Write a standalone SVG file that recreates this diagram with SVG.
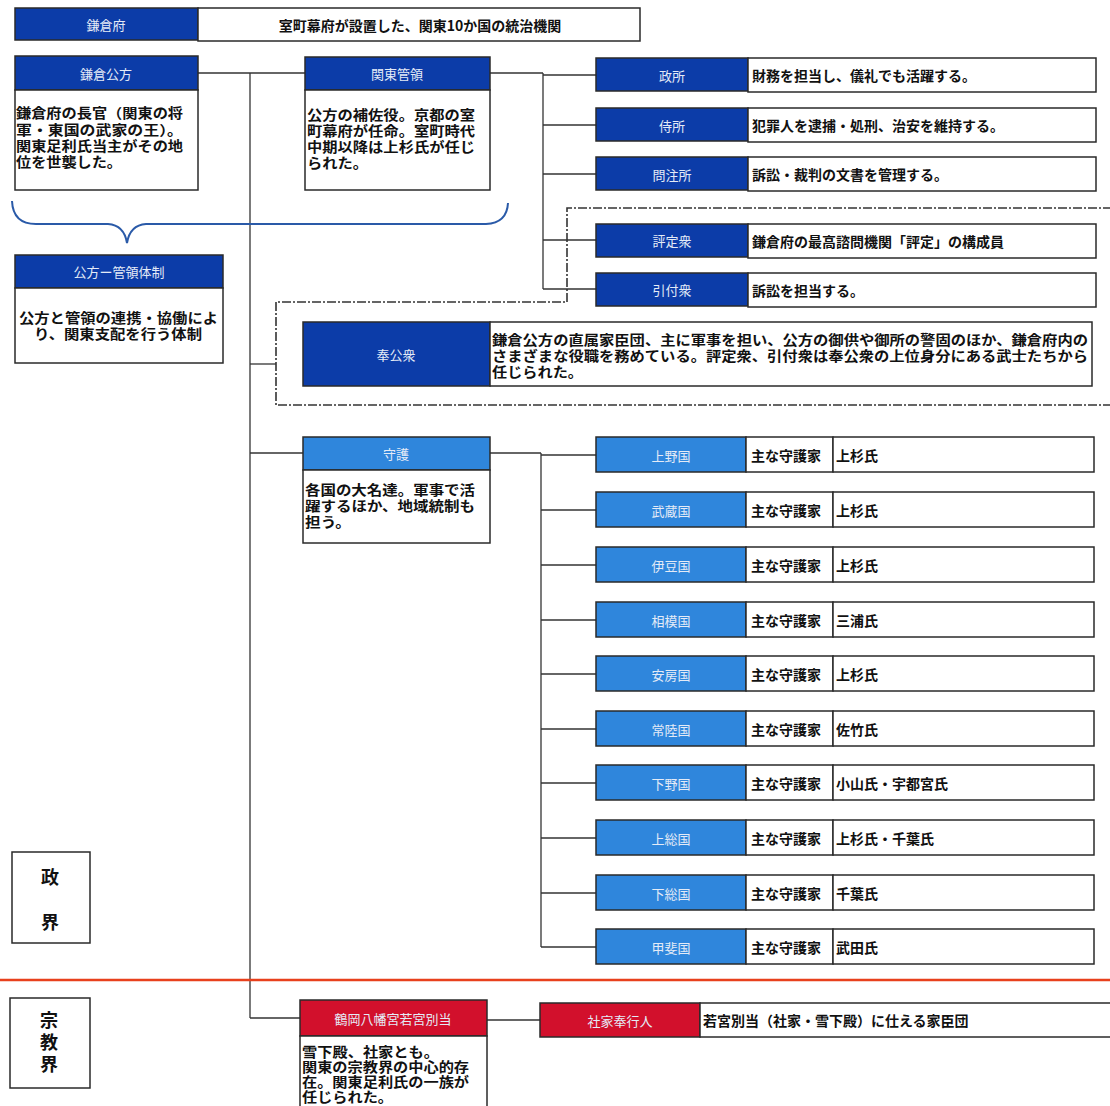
<svg xmlns="http://www.w3.org/2000/svg" width="1110" height="1106" viewBox="0 0 1110 1106">
<style>
.hd{fill:#0c3ca8;stroke:#2a2a2a;stroke-width:1.5}
.hl{fill:#2f86dc;stroke:#2a2a2a;stroke-width:1.5}
.hr{fill:#d2102c;stroke:#2a2a2a;stroke-width:1.5}
.bx{fill:#fff;stroke:#2a2a2a;stroke-width:1.5}
.ht{font-family:"Noto Sans CJK JP",sans-serif;font-size:13px;fill:#e4ebf7;text-anchor:middle;dominant-baseline:central}
.t{font-family:"Liberation Sans","Noto Sans CJK JP",sans-serif;font-size:13.5px;font-weight:bold;fill:#111}
.tc{font-family:"Noto Sans CJK JP",sans-serif;font-size:14px;font-weight:bold;fill:#111;dominant-baseline:central}
.big{font-family:"Liberation Sans","Noto Sans CJK JP",sans-serif;font-size:18px;font-weight:bold;fill:#111;text-anchor:middle}
.ln{stroke:#333;stroke-width:1.3;fill:none}
</style>
<rect width="1110" height="1106" fill="#fff"/>

<g id="connectors">
<line class="ln" x1="198" y1="73" x2="305" y2="73"/>
<line class="ln" x1="250" y1="73" x2="250" y2="1018"/>
<line class="ln" x1="250" y1="1018" x2="300" y2="1018"/>
<line class="ln" x1="250" y1="364" x2="276" y2="364"/>
<line class="ln" x1="250" y1="453" x2="303" y2="453"/>
<line class="ln" x1="490" y1="73" x2="543" y2="73"/>
<line class="ln" x1="543" y1="73" x2="543" y2="289"/>
<line class="ln" x1="543" y1="75" x2="596" y2="75"/>
<line class="ln" x1="543" y1="125" x2="596" y2="125"/>
<line class="ln" x1="543" y1="174" x2="596" y2="174"/>
<line class="ln" x1="543" y1="240" x2="596" y2="240"/>
<line class="ln" x1="543" y1="289" x2="596" y2="289"/>
<line class="ln" x1="490" y1="453" x2="541" y2="453"/>
<line class="ln" x1="541" y1="453" x2="541" y2="947"/>
<line class="ln" x1="541" y1="455" x2="596" y2="455"/>
<line class="ln" x1="541" y1="510" x2="596" y2="510"/>
<line class="ln" x1="541" y1="565" x2="596" y2="565"/>
<line class="ln" x1="541" y1="620" x2="596" y2="620"/>
<line class="ln" x1="541" y1="674" x2="596" y2="674"/>
<line class="ln" x1="541" y1="729" x2="596" y2="729"/>
<line class="ln" x1="541" y1="783" x2="596" y2="783"/>
<line class="ln" x1="541" y1="838" x2="596" y2="838"/>
<line class="ln" x1="541" y1="893" x2="596" y2="893"/>
<line class="ln" x1="541" y1="947" x2="596" y2="947"/>
<line class="ln" x1="487" y1="1020" x2="540" y2="1020"/>
</g>

<path id="group-frame" d="M1112,208 L567,208 L567,302 L276,302 L276,405 L1112,405" fill="none" stroke="#333" stroke-width="1.6" stroke-dasharray="9,2,2,2"/>
<path id="brace" d="M12,201 Q13,224 36,224 L108,224 Q124,225 127,243 Q130,225 146,224 L486,224 Q507,223 508,203" fill="none" stroke="#2a5aa8" stroke-width="2"/>
<line id="divider" x1="0" y1="980" x2="1110" y2="980" stroke="#e8401c" stroke-width="2.5"/>

<g id="kamakurafu">
<rect class="hd" x="15" y="8" width="183" height="32"/>
<text class="ht" x="106" y="24">鎌倉府</text>
<rect class="bx" x="198" y="8" width="442" height="33"/>
<text class="tc" x="420" y="25" text-anchor="middle">室町幕府が設置した、関東10か国の統治機関</text>
</g>

<g id="kubo">
<rect class="hd" x="15" y="56" width="183" height="34"/>
<text class="ht" x="106" y="73">鎌倉公方</text>
<rect class="bx" x="15" y="90" width="183" height="100"/>
<text class="t" x="16" y="118" textLength="167" lengthAdjust="spacingAndGlyphs">鎌倉府の長官（関東の将</text>
<text class="t" x="16" y="135" textLength="167" lengthAdjust="spacingAndGlyphs">軍・東国の武家の王）。</text>
<text class="t" x="16" y="151" textLength="167" lengthAdjust="spacingAndGlyphs">関東足利氏当主がその地</text>
<text class="t" x="16" y="167" textLength="106" lengthAdjust="spacingAndGlyphs">位を世襲した。</text>
</g>

<g id="kanrei">
<rect class="hd" x="305" y="57" width="185" height="33"/>
<text class="ht" x="397" y="73">関東管領</text>
<rect class="bx" x="305" y="90" width="185" height="100"/>
<text class="t" x="307" y="120" textLength="168" lengthAdjust="spacingAndGlyphs">公方の補佐役。京都の室</text>
<text class="t" x="307" y="136" textLength="168" lengthAdjust="spacingAndGlyphs">町幕府が任命。室町時代</text>
<text class="t" x="307" y="152" textLength="168" lengthAdjust="spacingAndGlyphs">中期以降は上杉氏が任じ</text>
<text class="t" x="307" y="168" textLength="61" lengthAdjust="spacingAndGlyphs">られた。</text>
</g>

<g id="mandokoro">
<rect class="hd" x="596" y="58" width="152" height="33"/>
<text class="ht" x="672" y="75">政所</text>
<rect class="bx" x="748" y="58" width="348" height="34"/>
<text class="tc" x="752" y="75">財務を担当し、儀礼でも活躍する。</text>
</g>

<g id="samuraidokoro">
<rect class="hd" x="596" y="108" width="152" height="33"/>
<text class="ht" x="672" y="125">侍所</text>
<rect class="bx" x="748" y="108" width="348" height="34"/>
<text class="tc" x="752" y="125">犯罪人を逮捕・処刑、治安を維持する。</text>
</g>

<g id="monchujo">
<rect class="hd" x="596" y="157" width="152" height="33"/>
<text class="ht" x="672" y="174">問注所</text>
<rect class="bx" x="748" y="157" width="348" height="34"/>
<text class="tc" x="752" y="174">訴訟・裁判の文書を管理する。</text>
</g>

<g id="hyojoshu">
<rect class="hd" x="596" y="224" width="152" height="33"/>
<text class="ht" x="672" y="240">評定衆</text>
<rect class="bx" x="748" y="224" width="348" height="34"/>
<text class="tc" x="752" y="241">鎌倉府の最高諮問機関「評定」の構成員</text>
</g>

<g id="hikitsukeshu">
<rect class="hd" x="596" y="273" width="152" height="33"/>
<text class="ht" x="672" y="289">引付衆</text>
<rect class="bx" x="748" y="273" width="348" height="34"/>
<text class="tc" x="752" y="290">訴訟を担当する。</text>
</g>

<g id="kubo-kanrei">
<rect class="hd" x="15" y="255" width="208" height="33"/>
<text class="ht" x="119" y="271">公方ー管領体制</text>
<rect class="bx" x="15" y="288" width="208" height="75"/>
<text class="t" x="19" y="323" font-size="14" textLength="199" lengthAdjust="spacingAndGlyphs">公方と管領の連携・協働によ</text>
<text class="t" x="34" y="339" font-size="14" textLength="168" lengthAdjust="spacingAndGlyphs">り、関東支配を行う体制</text>
</g>

<g id="hokoshu">
<rect class="hd" x="303" y="322" width="187" height="64"/>
<text class="ht" x="396" y="354">奉公衆</text>
<rect class="bx" x="490" y="322" width="602" height="64"/>
<text class="t" x="492" y="345" textLength="596" lengthAdjust="spacingAndGlyphs">鎌倉公方の直属家臣団、主に軍事を担い、公方の御供や御所の警固のほか、鎌倉府内の</text>
<text class="t" x="492" y="361" textLength="596" lengthAdjust="spacingAndGlyphs">さまざまな役職を務めている。評定衆、引付衆は奉公衆の上位身分にある武士たちから</text>
<text class="t" x="492" y="377" textLength="91" lengthAdjust="spacingAndGlyphs">任じられた。</text>
</g>

<g id="shugo">
<rect class="hl" x="303" y="437" width="187" height="33"/>
<text class="ht" x="396" y="453">守護</text>
<rect class="bx" x="303" y="470" width="187" height="73"/>
<text class="t" x="305" y="495" textLength="170" lengthAdjust="spacingAndGlyphs">各国の大名達。軍事で活</text>
<text class="t" x="305" y="511" textLength="170" lengthAdjust="spacingAndGlyphs">躍するほか、地域統制も</text>
<text class="t" x="305" y="527" textLength="46" lengthAdjust="spacingAndGlyphs">担う。</text>
</g>

<g id="kozuke"><rect class="hl" x="596" y="437" width="150" height="35"/><text class="ht" x="671" y="455">上野国</text><rect class="bx" x="746" y="437" width="87" height="35"/><rect class="bx" x="833" y="437" width="261" height="35"/><text class="tc" x="751" y="455" font-size="15">主な守護家</text><text class="tc" x="836" y="455" font-size="15">上杉氏</text></g>
<g id="musashi"><rect class="hl" x="596" y="492" width="150" height="35"/><text class="ht" x="671" y="510">武蔵国</text><rect class="bx" x="746" y="492" width="87" height="35"/><rect class="bx" x="833" y="492" width="261" height="35"/><text class="tc" x="751" y="510" font-size="15">主な守護家</text><text class="tc" x="836" y="510" font-size="15">上杉氏</text></g>
<g id="izu"><rect class="hl" x="596" y="547" width="150" height="35"/><text class="ht" x="671" y="565">伊豆国</text><rect class="bx" x="746" y="547" width="87" height="35"/><rect class="bx" x="833" y="547" width="261" height="35"/><text class="tc" x="751" y="565" font-size="15">主な守護家</text><text class="tc" x="836" y="565" font-size="15">上杉氏</text></g>
<g id="sagami"><rect class="hl" x="596" y="602" width="150" height="35"/><text class="ht" x="671" y="620">相模国</text><rect class="bx" x="746" y="602" width="87" height="35"/><rect class="bx" x="833" y="602" width="261" height="35"/><text class="tc" x="751" y="620" font-size="15">主な守護家</text><text class="tc" x="836" y="620" font-size="15">三浦氏</text></g>
<g id="awa"><rect class="hl" x="596" y="656" width="150" height="35"/><text class="ht" x="671" y="674">安房国</text><rect class="bx" x="746" y="656" width="87" height="35"/><rect class="bx" x="833" y="656" width="261" height="35"/><text class="tc" x="751" y="674" font-size="15">主な守護家</text><text class="tc" x="836" y="674" font-size="15">上杉氏</text></g>
<g id="hitachi"><rect class="hl" x="596" y="711" width="150" height="35"/><text class="ht" x="671" y="729">常陸国</text><rect class="bx" x="746" y="711" width="87" height="35"/><rect class="bx" x="833" y="711" width="261" height="35"/><text class="tc" x="751" y="729" font-size="15">主な守護家</text><text class="tc" x="836" y="729" font-size="15">佐竹氏</text></g>
<g id="shimotsuke"><rect class="hl" x="596" y="765" width="150" height="35"/><text class="ht" x="671" y="783">下野国</text><rect class="bx" x="746" y="765" width="87" height="35"/><rect class="bx" x="833" y="765" width="261" height="35"/><text class="tc" x="751" y="783" font-size="15">主な守護家</text><text class="tc" x="836" y="783" font-size="15">小山氏・宇都宮氏</text></g>
<g id="kazusa"><rect class="hl" x="596" y="820" width="150" height="35"/><text class="ht" x="671" y="838">上総国</text><rect class="bx" x="746" y="820" width="87" height="35"/><rect class="bx" x="833" y="820" width="261" height="35"/><text class="tc" x="751" y="838" font-size="15">主な守護家</text><text class="tc" x="836" y="838" font-size="15">上杉氏・千葉氏</text></g>
<g id="shimousa"><rect class="hl" x="596" y="875" width="150" height="35"/><text class="ht" x="671" y="893">下総国</text><rect class="bx" x="746" y="875" width="87" height="35"/><rect class="bx" x="833" y="875" width="261" height="35"/><text class="tc" x="751" y="893" font-size="15">主な守護家</text><text class="tc" x="836" y="893" font-size="15">千葉氏</text></g>
<g id="kai"><rect class="hl" x="596" y="929" width="150" height="35"/><text class="ht" x="671" y="947">甲斐国</text><rect class="bx" x="746" y="929" width="87" height="35"/><rect class="bx" x="833" y="929" width="261" height="35"/><text class="tc" x="751" y="947" font-size="15">主な守護家</text><text class="tc" x="836" y="947" font-size="15">武田氏</text></g>

<g id="seikai">
<rect class="bx" x="12" y="852" width="78" height="91"/>
<text class="big" x="50" y="884">政</text>
<text class="big" x="50" y="929">界</text>
</g>

<g id="shukyokai">
<rect class="bx" x="10" y="998" width="80" height="90"/>
<text class="big" x="49" y="1027" font-size="18">宗</text>
<text class="big" x="49" y="1049" font-size="18">教</text>
<text class="big" x="49" y="1071" font-size="18">界</text>
</g>

<g id="betto">
<rect class="hr" x="300" y="1000" width="187" height="36"/>
<text class="ht" x="393" y="1018">鶴岡八幡宮若宮別当</text>
<rect class="bx" x="300" y="1036" width="187" height="75"/>
<text class="t" x="302" y="1057" font-size="13" textLength="137" lengthAdjust="spacingAndGlyphs">雪下殿、社家とも。</text>
<text class="t" x="302" y="1072" font-size="13" textLength="167" lengthAdjust="spacingAndGlyphs">関東の宗教界の中心的存</text>
<text class="t" x="302" y="1087" font-size="13" textLength="167" lengthAdjust="spacingAndGlyphs">在。関東足利氏の一族が</text>
<text class="t" x="302" y="1102" font-size="13" textLength="91" lengthAdjust="spacingAndGlyphs">任じられた。</text>
</g>

<g id="shake-bugyonin">
<rect class="hr" x="540" y="1003" width="160" height="34"/>
<text class="ht" x="620" y="1020">社家奉行人</text>
<rect class="bx" x="700" y="1003" width="415" height="34"/>
<text class="tc" x="703" y="1020">若宮別当（社家・雪下殿）に仕える家臣団</text>
</g>
</svg>
